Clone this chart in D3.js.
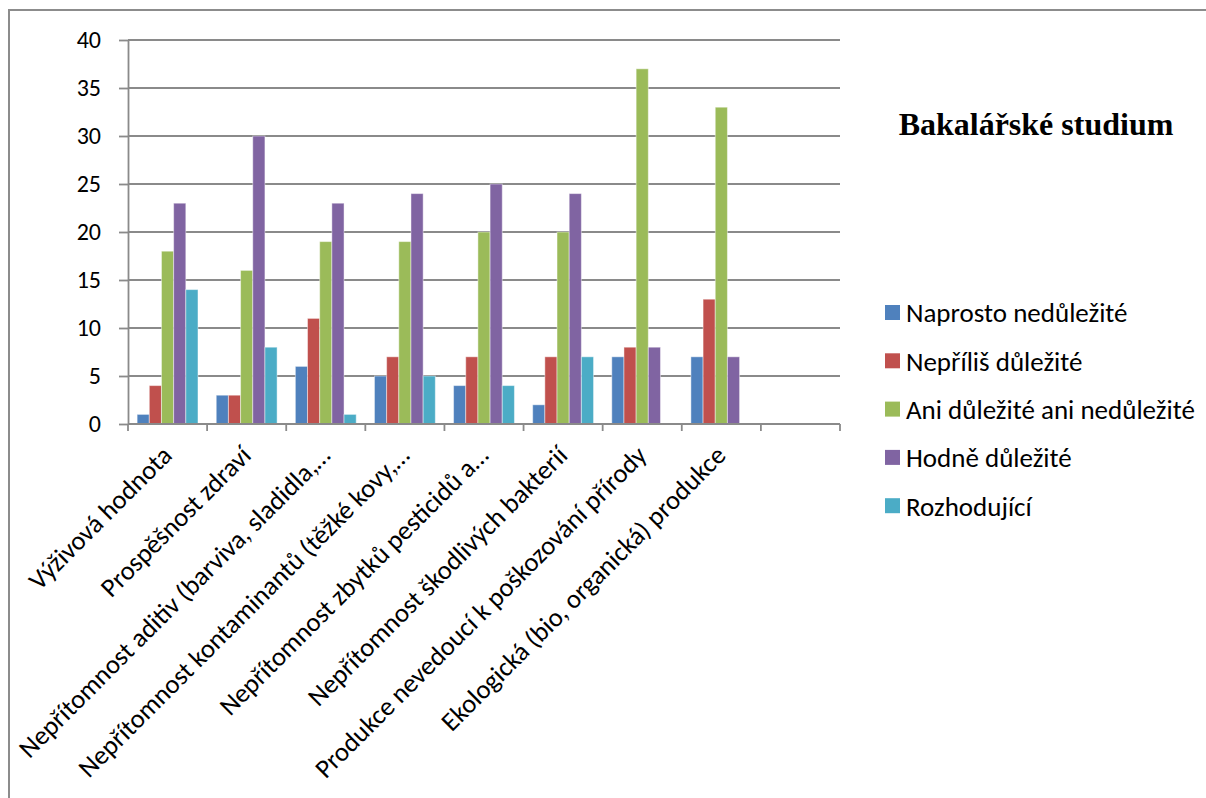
<!DOCTYPE html>
<html>
<head>
<meta charset="utf-8">
<script src="https://cdn.jsdelivr.net/npm/d3@7"></script>
<style>
  html, body { margin: 0; padding: 0; background: #fff; }
  svg { display: block; }
</style>
</head>
<body>
<div id="chart"></div>
<script>
/* ============================================================
   Bakalářské studium — clustered column chart
   ============================================================ */
var categories = [
    'Výživová hodnota',
    'Prospěšnost zdraví',
    'Nepřítomnost aditiv (barviva, sladidla,…',
    'Nepřítomnost kontaminantů (těžké kovy,…',
    'Nepřítomnost zbytků pesticidů a…',
    'Nepřítomnost škodlivých bakterií',
    'Produkce nevedoucí k poškozování přírody',
    'Ekologická (bio, organická) produkce',
    ''
];
var seriesNames = [
    'Naprosto nedůležité',
    'Nepříliš důležité',
    'Ani důležité ani nedůležité',
    'Hodně důležité',
    'Rozhodující'
];
var seriesColors = ['#4F81BD', '#C0504D', '#9BBB59', '#8064A2', '#4BACC6'];

// one array per series, one value per category (empty last category)
var naprosto    = [1, 3, 6, 5, 4, 2, 7, 7, null];
var neprilis    = [4, 3, 11, 7, 7, 7, 8, 13, null];
var ani         = [18, 16, 19, 19, 20, 20, 37, 33, null];
var hodne       = [23, 30, 23, 24, 25, 24, 8, 7, null];
var rozhodujici = [14, 8, 1, 5, 4, 7, 0, 0, null];
var seriesValues = [naprosto, neprilis, ani, hodne, rozhodujici];

var yTicks = [0, 5, 10, 15, 20, 25, 30, 35, 40];
var title = 'Bakalářské studium';

var W = 1206, H = 798;
var M = {top: 40, left: 128, right: W - 840, bottom: H - 424};
var iw = W - M.left - M.right;
var ih = H - M.top - M.bottom;

var FONT = 'Carlito, Lato, "Open Sans", sans-serif';
var GRID = '#8a8a8a';

var svg = d3.select('#chart').append('svg')
    .attr('width', W)
    .attr('height', H);

// outer chart frame (runs off the right and bottom edges)
svg.append('rect')
    .attr('x', 9).attr('y', 10)
    .attr('width', 1400).attr('height', 1000)
    .attr('fill', 'none')
    .attr('stroke', '#8c8c8c')
    .attr('stroke-width', 2);

var g = svg.append('g').attr('transform', 'translate(' + M.left + ',' + M.top + ')');

var x0 = d3.scaleBand()
    .domain(d3.range(categories.length))
    .range([0, iw])
    .paddingInner(0)
    .paddingOuter(0);

// 150% gap width: bars take 5 / 6.5 of each band
var x1 = d3.scaleBand()
    .domain(d3.range(seriesNames.length))
    .range([0, x0.bandwidth()])
    .paddingInner(0)
    .paddingOuter(0.75);

var y = d3.scaleLinear().domain([0, 40]).range([ih, 0]);

// Grid
g.append('g').attr('class', 'grid')
    .selectAll('line')
    .data(yTicks.filter(function(d) { return d > 0; }))
    .enter().append('line')
    .attr('x1', 0).attr('x2', iw)
    .attr('y1', function(d) { return y(d); })
    .attr('y2', function(d) { return y(d); })
    .attr('stroke', GRID)
    .attr('stroke-width', 1.8);

// Bars
var groups = g.selectAll('.cat')
    .data(d3.range(categories.length))
    .enter().append('g')
    .attr('class', 'cat')
    .attr('transform', function(i) { return 'translate(' + x0(i) + ',0)'; });

groups.selectAll('rect')
    .data(function(i) {
        return seriesValues.map(function(s, k) { return {k: k, v: s[i]}; })
            .filter(function(d) { return d.v; });
    })
    .enter().append('rect')
    .attr('x', function(d) { return x1(d.k); })
    .attr('width', x1.bandwidth())
    .attr('y', function(d) { return y(d.v); })
    .attr('height', function(d) { return ih - y(d.v); })
    .attr('fill', function(d) { return seriesColors[d.k]; })
    .attr('stroke', 'rgba(255,255,255,0.45)')
    .attr('stroke-width', 1);

// Y axis
var yAxis = g.append('g')
    .call(d3.axisLeft(y).tickValues(yTicks).tickSize(9).tickPadding(18).tickSizeOuter(0));
yAxis.select('.domain').attr('stroke', GRID).attr('stroke-width', 1.8);
yAxis.selectAll('.tick line').attr('stroke', GRID).attr('stroke-width', 1.8);
yAxis.selectAll('text')
    .style('font-family', FONT)
    .style('font-size', '24px')
    .attr('fill', '#000');

// X axis line + ticks at category boundaries
var xAxis = g.append('g').attr('transform', 'translate(0,' + ih + ')');
xAxis.append('line')
    .attr('x1', 0).attr('x2', iw)
    .attr('stroke', GRID).attr('stroke-width', 1.8);
xAxis.selectAll('.btick')
    .data(d3.range(categories.length + 1))
    .enter().append('line')
    .attr('x1', function(i) { return i * x0.step(); })
    .attr('x2', function(i) { return i * x0.step(); })
    .attr('y1', 0).attr('y2', 7)
    .attr('stroke', GRID).attr('stroke-width', 1.8);

xAxis.selectAll('.xlabel')
    .data(categories)
    .enter().append('text')
    .attr('class', 'xlabel')
    .attr('transform', function(d, i) {
        return 'translate(' + (x0(i) + x0.bandwidth() / 2 + 6) + ',33) rotate(-45)';
    })
    .attr('text-anchor', 'end')
    .style('font-family', FONT)
    .style('font-size', '26.5px')
    .attr('fill', '#000')
    .text(function(d) { return d; });

// Title
svg.append('text')
    .attr('x', 1036).attr('y', 135)
    .attr('text-anchor', 'middle')
    .style('font-family', '"Liberation Serif", "Times New Roman", serif')
    .style('font-weight', 'bold')
    .style('font-size', '32px')
    .attr('fill', '#000')
    .text(title);

// Legend
var legend = svg.append('g').attr('transform', 'translate(885,313)');
var items = legend.selectAll('g')
    .data(seriesNames)
    .enter().append('g')
    .attr('transform', function(d, i) { return 'translate(0,' + (i * 48.3) + ')'; });
items.append('rect')
    .attr('x', 0).attr('y', -8)
    .attr('width', 15).attr('height', 15)
    .attr('fill', function(d, i) { return seriesColors[i]; });
items.append('text')
    .attr('x', 21).attr('y', 0)
    .attr('dy', '0.35em')
    .style('font-family', FONT)
    .style('font-size', '27px')
    .attr('fill', '#000')
    .text(function(d) { return d; });
</script>
</body>
</html>
